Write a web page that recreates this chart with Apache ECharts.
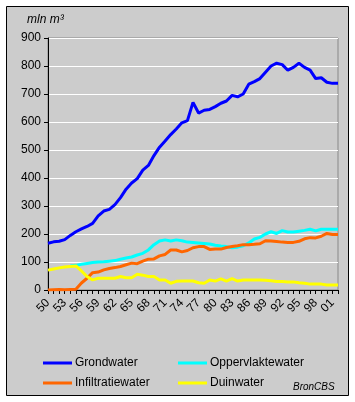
<!DOCTYPE html>
<html>
<head>
<meta charset="utf-8">
<script src="https://cdn.jsdelivr.net/npm/echarts@6/dist/echarts.min.js"></script>
<style>
html,body{margin:0;padding:0;background:#ffffff;}
#c{width:355px;height:402px;}
</style>
</head>
<body>
<div id="c"></div>
<script>
var years = [];
for (var y = 1950; y <= 2002; y++) years.push(String(y));

var grondwater = [167,172,174,180,195,208,218,227,238,265,282,288,305,330,360,382,398,428,445,480,
  510,532,555,575,597,605,670,632,642,645,655,667,675,695,690,700,735,744,755,778,
  800,810,805,785,795,810,795,785,755,758,742,738,738];
var oppervlaktewater = [null,null,null,null,86,88,92,95,98,100,101,103,105,110,114,118,125,131,143,162,
  175,179,175,179,176,171,170,168,166,164,160,157,155,151,153,158,168,182,188,200,
  208,202,212,207,207,210,213,217,211,217,217,217,217];
var infiltratiewater = [0,1,2,1,2,3,25,42,62,64,72,77,80,84,90,96,94,103,110,111,
  122,127,143,143,136,141,151,155,155,145,146,146,152,155,158,162,162,163,165,176,
  175,173,171,170,170,174,183,187,186,192,202,198,198];
var duinwater = [71,75,79,82,84,86,68,48,36,42,42,42,42,48,44,44,56,53,48,48,
  36,36,24,31,32,32,32,26,24,36,32,40,32,41,32,36,36,36,36,35,
  33,30,30,29,29,26,24,21,21,21,18,18,18];

var seriesNames = ['Grondwater','Oppervlaktewater','Infiltratiewater','Duinwater'];
var seriesColors = ['#0000ff','#00ffff','#ff6600','#ffff00'];
var seriesData = [grondwater, oppervlaktewater, infiltratiewater, duinwater];

var FONT = '"Liberation Sans", Arial, sans-serif';
var chart = echarts.init(document.getElementById('c'), null, {renderer:'canvas'});

var series = seriesNames.map(function(n, i){
  return {
    name: n, type: 'line', data: seriesData[i], symbol: 'none', smooth: false,
    connectNulls: false,
    lineStyle: {color: seriesColors[i], width: 3},
    itemStyle: {color: seriesColors[i]},
    emphasis: {disabled: true}, animation: false
  };
});

var legendPos = [[43,357],[178,357],[43,377],[178,377]];
var legends = seriesNames.map(function(n, i){
  return {
    data: [n], left: legendPos[i][0], top: legendPos[i][1], padding: 0,
    icon: 'rect', itemWidth: 29, itemHeight: 3, itemGap: 0,
    selectedMode: false,
    textStyle: {fontFamily: FONT, fontSize: 12, color: '#000', padding: [0,0,0,-2]}
  };
});

chart.setOption({
  animation: false,
  backgroundColor: '#ffffff',
  graphic: [
    {type:'rect', shape:{x:6.5, y:6.5, width:342, height:389}, style:{fill:'#cccccc', stroke:'#000', lineWidth:1}, z:-10, silent:true},
    {type:'text', left: 27, top: 14, style:{text:'mln m³', font:'italic 12px "Liberation Sans", Arial, sans-serif', fill:'#000'}, z:10},
    {type:'text', left: 293, top: 382, style:{text:'BronCBS', font:'italic 10px "Liberation Sans", Arial, sans-serif', fill:'#000'}, z:10}
  ],
  grid: {left: 48, right: 17, top: 38, bottom: 112, show: true, borderColor: '#888888', borderWidth: 1, backgroundColor: 'transparent'},
  legend: legends,
  xAxis: {
    type: 'category', data: years, boundaryGap: false,
    axisLine: {lineStyle: {color: '#000', width: 1}},
    axisTick: {show: true, interval: 0, length: 4, lineStyle: {color: '#000'}},
    axisLabel: {interval: 2, rotate: 45, fontFamily: FONT, fontSize: 12, color: '#000', margin: 11,
      formatter: function(v){ return v.slice(2); }},
    splitLine: {show: false}
  },
  yAxis: {
    type: 'value', min: 0, max: 900, interval: 100,
    axisLine: {show: true, lineStyle: {color: '#000', width: 1}},
    axisTick: {show: true, length: 4, lineStyle: {color: '#000'}},
    axisLabel: {fontFamily: FONT, fontSize: 12, color: '#000', margin: 7},
    splitLine: {show: true, lineStyle: {color: '#ffffff', width: 1}}
  },
  series: series
});
</script>
</body>
</html>
